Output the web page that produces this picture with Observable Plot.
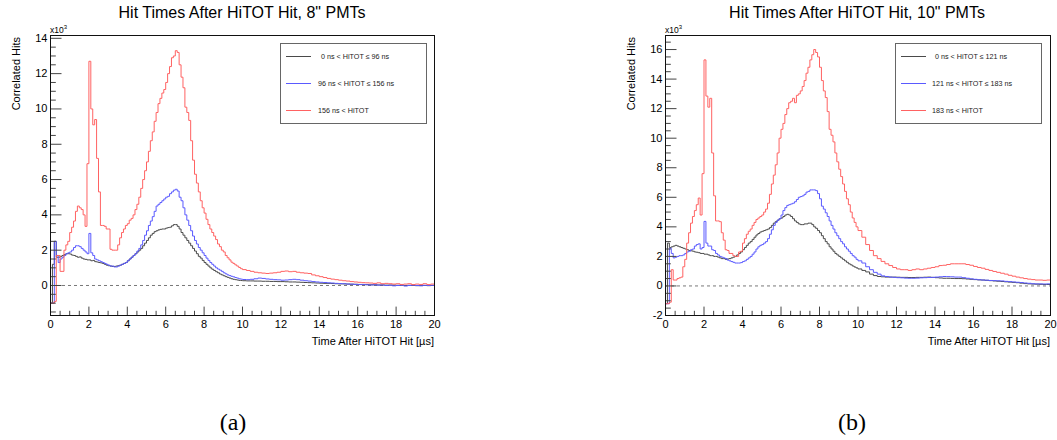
<!DOCTYPE html>
<html>
<head>
<meta charset="utf-8">
<script src="https://cdn.jsdelivr.net/npm/d3@7"></script>
<script src="https://cdn.jsdelivr.net/npm/@observablehq/plot@0.6"></script>
<style>
  html, body { margin: 0; padding: 0; background: #fff; }
  #root { position: relative; width: 1057px; height: 440px; overflow: hidden; background: #fff; }
  #root > svg { position: absolute; top: 0; }
</style>
</head>
<body>
<div id="root"></div>
<script>
// ---------------- text ----------------
const titles = ['Hit Times After HiTOT Hit, 8" PMTs', 'Hit Times After HiTOT Hit, 10" PMTs'];
const yAxisTitle = "Correlated Hits";
const xAxisTitle = "Time After HiTOT Hit [\u00b5s]";
const captions = ["(a)", "(b)"];
const legendA = ["0 ns < HiTOT \u2264 96 ns", "96 ns < HiTOT \u2264 156 ns", "156 ns < HiTOT"];
const legendB = ["0 ns < HiTOT \u2264 121 ns", "121 ns < HiTOT \u2264 183 ns", "183 ns < HiTOT"];

// ---------------- ticks ----------------
const xTicks = [0, 2, 4, 6, 8, 10, 12, 14, 16, 18, 20];
const yTicksA = [0, 2, 4, 6, 8, 10, 12, 14];
const yTicksB = [-2, 0, 2, 4, 6, 8, 10, 12, 14, 16];

// ---------------- binning (µs) ----------------
const binMain = 0.1, tailFrom = 10, binTail = 0.2, xEnd = 20;

// ---------------- values (x10^3 hits) ----------------
// Panel (a), 8" PMTs: bins 0-10 µs (0.1 µs), then 10-20 µs (0.2 µs)
const a8_low_main = [
 -1.0, 1.2, 2.5, 1.6, 1.6, 1.65, 1.7, 1.75, 1.8, 1.8,
 1.78, 1.72, 1.7, 1.65, 1.6, 1.62, 1.55, 1.5, 1.48, 1.45,
 1.45, 1.4, 1.42, 1.35, 1.33, 1.3, 1.28, 1.25, 1.2, 1.15,
 1.12, 1.1, 1.08, 1.08, 1.1, 1.12, 1.15, 1.2, 1.25, 1.3,
 1.4, 1.5, 1.6, 1.7, 1.8, 1.9, 2.0, 2.1, 2.25, 2.4,
 2.55, 2.7, 2.85, 2.95, 3.05, 3.1, 3.15, 3.18, 3.2, 3.2,
 3.25, 3.28, 3.3, 3.38, 3.45, 3.45, 3.35, 3.2, 3.0, 2.85,
 2.7, 2.55, 2.4, 2.25, 2.1, 1.95, 1.8, 1.65, 1.55, 1.42,
 1.3, 1.2, 1.1, 1.0, 0.92, 0.85, 0.78, 0.72, 0.65, 0.6,
 0.55, 0.5, 0.46, 0.42, 0.38, 0.35, 0.33, 0.31, 0.29, 0.28];
const a8_low_tail = [
 0.27, 0.26, 0.26, 0.25, 0.25, 0.24, 0.24, 0.23, 0.23, 0.22,
 0.22, 0.21, 0.2, 0.2, 0.19, 0.18, 0.17, 0.16, 0.15, 0.14,
 0.13, 0.12, 0.12, 0.11, 0.1, 0.09, 0.09, 0.08, 0.07, 0.07,
 0.06, 0.05, 0.05, 0.04, 0.04, 0.03, 0.03, 0.02, 0.02, 0.02,
 0.01, 0.01, 0.0, 0.01, 0.0, -0.01, 0.0, 0.0, -0.01, 0.0];

const a8_mid_main = [
 -1.0, -1.0, 2.5, 1.7, 1.3, 1.5, 1.6, 1.7, 1.8, 1.85,
 1.9, 2.0, 2.15, 2.25, 2.25, 2.2, 2.1, 2.0, 1.9, 1.8,
 2.95, 1.85, 1.7, 1.5, 1.45, 1.4, 1.35, 1.3, 1.25, 1.2,
 1.15, 1.1, 1.1, 1.05, 1.05, 1.1, 1.15, 1.2, 1.25, 1.3,
 1.4, 1.5, 1.6, 1.7, 1.8, 1.95, 2.1, 2.3, 2.55, 2.85,
 3.1, 3.4, 3.65, 3.9, 4.2, 4.5, 4.6, 4.7, 4.8, 4.9,
 5.0, 5.05, 5.2, 5.3, 5.4, 5.45, 5.35, 5.0, 4.8, 4.4,
 4.0, 3.7, 3.4, 3.1, 2.8, 2.55, 2.35, 2.15, 2.0, 1.85,
 1.7, 1.55, 1.42, 1.3, 1.2, 1.1, 1.0, 0.93, 0.87, 0.8,
 0.72, 0.66, 0.6, 0.56, 0.52, 0.49, 0.45, 0.42, 0.38, 0.36];
const a8_mid_tail = [
 0.34, 0.33, 0.35, 0.38, 0.42, 0.4, 0.37, 0.35, 0.33, 0.32,
 0.3, 0.31, 0.33, 0.35, 0.33, 0.3, 0.27, 0.25, 0.22, 0.2,
 0.18, 0.17, 0.15, 0.14, 0.12, 0.11, 0.1, 0.08, 0.08, 0.06,
 0.05, 0.06, 0.04, 0.03, 0.04, 0.02, 0.03, 0.0, 0.02, -0.02,
 0.0, 0.02, -0.03, 0.0, 0.02, 0.0, -0.02, 0.01, 0.0, 0.01];

const a8_high_main = [
 -1.0, -1.0, -0.9, 1.7, 1.7, 0.8, 0.8, 2.0, 2.3, 2.5,
 3.0, 3.3, 3.65, 4.2, 4.5, 4.4, 4.3, 4.0, 3.35, 6.9,
 12.7, 10.0, 9.1, 9.4, 7.2, 5.3, 3.4, 3.4, 3.35, 3.2,
 3.2, 2.05, 2.0, 2.0, 2.0, 2.3, 2.7, 3.0, 3.2, 3.4,
 3.5, 3.7, 3.8, 4.0, 4.3, 4.6, 5.0, 5.5, 6.0, 6.5,
 7.0, 7.6, 8.2, 8.7, 9.3, 9.8, 10.3, 10.6, 10.9, 11.1,
 11.5, 12.0, 12.4, 12.9, 13.0, 13.3, 13.2, 12.5, 11.8, 11.2,
 10.1, 9.8, 9.35, 8.2, 7.1, 6.3, 5.8, 5.3, 4.8, 4.4,
 4.1, 3.75, 3.45, 3.2, 3.0, 2.8, 2.6, 2.35, 2.2, 2.0,
 1.9, 1.7, 1.57, 1.45, 1.32, 1.25, 1.17, 1.1, 1.02, 0.95];
const a8_high_tail = [
 0.9, 0.85, 0.8, 0.75, 0.72, 0.7, 0.68, 0.7, 0.72, 0.75,
 0.8, 0.82, 0.78, 0.8, 0.75, 0.72, 0.7, 0.68, 0.6, 0.55,
 0.5, 0.45, 0.4, 0.36, 0.33, 0.3, 0.27, 0.25, 0.22, 0.2,
 0.18, 0.16, 0.15, 0.14, 0.12, 0.15, 0.1, 0.12, 0.1, 0.08,
 0.1, 0.06, 0.08, 0.1, 0.05, 0.08, 0.06, 0.1, 0.05, 0.08];

// Panel (b), 10" PMTs
const b10_low_main = [
 -1.2, 2.9, 2.6, 2.65, 2.7, 2.75, 2.7, 2.65, 2.6, 2.55,
 2.5, 2.45, 2.4, 2.38, 2.35, 2.3, 2.28, 2.25, 2.2, 2.2,
 2.15, 2.15, 2.1, 2.05, 2.05, 2.0, 2.0, 1.95, 1.9, 1.85,
 1.85, 1.8, 1.82, 1.85, 1.9, 1.95, 2.0, 2.1, 2.2, 2.3,
 2.45, 2.6, 2.75, 2.9, 3.0, 3.15, 3.3, 3.45, 3.55, 3.65,
 3.7, 3.75, 3.8, 3.85, 3.95, 4.1, 4.25, 4.35, 4.45, 4.55,
 4.6, 4.7, 4.8, 4.85, 4.8, 4.7, 4.55, 4.4, 4.3, 4.2,
 4.15, 4.15, 4.2, 4.2, 4.25, 4.25, 4.15, 4.0, 3.9, 3.75,
 3.6, 3.4, 3.2, 3.0, 2.85, 2.65, 2.5, 2.35, 2.2, 2.1,
 2.0, 1.9, 1.8, 1.7, 1.6, 1.5, 1.43, 1.35, 1.28, 1.22];
const b10_low_tail = [
 1.15, 1.05, 0.95, 0.8, 0.7, 0.64, 0.62, 0.6, 0.6, 0.6,
 0.59, 0.58, 0.58, 0.57, 0.57, 0.58, 0.58, 0.59, 0.6, 0.58,
 0.56, 0.54, 0.52, 0.52, 0.51, 0.5, 0.5, 0.49, 0.47, 0.45,
 0.43, 0.41, 0.4, 0.38, 0.36, 0.34, 0.32, 0.3, 0.28, 0.26,
 0.24, 0.22, 0.19, 0.16, 0.14, 0.13, 0.12, 0.11, 0.1, 0.1];

const b10_mid_main = [
 -1.2, -1.2, 2.55, 2.2, 1.9, 1.95, 2.0, 2.05, 2.05, 2.1,
 2.2, 2.3, 2.35, 2.45, 2.5, 2.7, 2.8, 2.85, 2.5, 2.6,
 4.37, 2.9, 2.7, 2.7, 2.45, 2.4, 2.2, 2.1, 2.0, 1.95,
 1.9, 1.85, 1.75, 1.7, 1.65, 1.6, 1.55, 1.55, 1.55, 1.58,
 1.65, 1.7, 1.8, 1.9, 2.0, 2.15, 2.3, 2.5, 2.65, 2.75,
 2.8, 2.9, 3.0, 3.2, 3.5, 3.8, 4.1, 4.3, 4.45, 4.55,
 4.8, 5.1, 5.3, 5.45, 5.5, 5.55, 5.6, 5.7, 5.85, 6.0,
 6.05, 6.1, 6.2, 6.35, 6.4, 6.5, 6.5, 6.5, 6.45, 6.25,
 5.9, 5.4, 5.2, 4.95, 4.7, 4.4, 4.1, 3.85, 3.6, 3.4,
 3.2, 3.0, 2.85, 2.65, 2.5, 2.35, 2.2, 2.05, 1.95, 1.8];
const b10_mid_tail = [
 1.7, 1.55, 1.3, 1.1, 0.92, 0.8, 0.68, 0.64, 0.6, 0.58,
 0.56, 0.55, 0.53, 0.52, 0.52, 0.53, 0.55, 0.56, 0.57, 0.58,
 0.6, 0.62, 0.64, 0.63, 0.62, 0.6, 0.6, 0.56, 0.52, 0.48,
 0.45, 0.42, 0.4, 0.39, 0.37, 0.36, 0.35, 0.34, 0.31, 0.29,
 0.27, 0.25, 0.23, 0.2, 0.18, 0.15, 0.14, 0.14, 0.13, 0.14];

const b10_high_main = [
 -1.2, -1.2, -1.1, 1.1, 0.4, 0.4, 0.5, 0.55, 0.6, 1.3,
 1.8, 2.9, 3.6, 4.25, 4.7, 5.1, 5.5, 5.95, 4.8, 7.6,
 15.3, 12.85, 12.1, 12.7, 9.0, 6.1, 4.4, 4.4, 4.35, 3.6,
 3.1, 2.45, 2.4, 2.2, 2.2, 2.05, 2.0, 2.0, 2.3, 2.35,
 2.9, 3.2, 3.5, 3.7, 3.85, 4.1, 4.3, 4.5, 4.6, 4.7,
 4.8, 5.0, 5.2, 5.6, 6.2, 6.9, 7.5, 8.2, 9.0, 10.0,
 10.6, 11.0, 11.6, 12.0, 12.4, 12.5, 12.7, 12.4, 12.9, 13.0,
 13.2, 13.5, 13.9, 14.4, 14.8, 15.3, 15.65, 16.0, 15.8, 15.5,
 14.8, 13.9, 13.2, 12.75, 11.8, 10.6, 10.2, 9.75, 9.0, 8.4,
 7.9, 7.4, 6.9, 6.4, 5.9, 5.5, 5.0, 4.6, 4.3, 4.0];
const b10_high_tail = [
 3.75, 3.3, 2.8, 2.4, 2.05, 1.85, 1.66, 1.5, 1.38, 1.25,
 1.15, 1.1, 1.1, 1.05, 1.1, 1.15, 1.1, 1.15, 1.2, 1.25,
 1.3, 1.38, 1.4, 1.45, 1.5, 1.5, 1.5, 1.5, 1.45, 1.4,
 1.32, 1.25, 1.2, 1.12, 1.05, 0.98, 0.92, 0.86, 0.8, 0.72,
 0.66, 0.6, 0.55, 0.5, 0.46, 0.43, 0.4, 0.4, 0.38, 0.4];

// ---------------- styles ----------------
const seriesColors = ["#4a4a4a", "#5a5aff", "#ff6262"];
const font = "'Liberation Sans', Arial, Helvetica, sans-serif";

function hist(main, tail) {
  const pts = main.map((v, i) => ({t: +(i * binMain).toFixed(2), v}));
  tail.forEach((v, k) => pts.push({t: +(tailFrom + k * binTail).toFixed(2), v}));
  pts.push({t: xEnd, v: tail[tail.length - 1]});
  return pts;
}

const panels = [
  {left: 0, width: 450, mL: 50, mR: 16, yDomain: [-1.7, 14.16], yTicks: yTicksA,
   series: [hist(a8_low_main, a8_low_tail), hist(a8_mid_main, a8_mid_tail), hist(a8_high_main, a8_high_tail)],
   title: titles[0], legend: legendA, titleX: 242, yTitleX: 19.5,
   legBox: [280, 43], legText: [321, 318, 318], caption: captions[0], capX: 233},
  {left: 610, width: 447, mL: 55, mR: 7, yDomain: [-2, 16.95], yTicks: yTicksB,
   series: [hist(b10_low_main, b10_low_tail), hist(b10_mid_main, b10_mid_tail), hist(b10_high_main, b10_high_tail)],
   title: titles[1], legend: legendB, titleX: 857, yTitleX: 635,
   legBox: [895, 43], legText: [935, 932, 932], caption: captions[1], capX: 852}
];

const H = 350, mT = 35, mB = 35;
const root = document.getElementById("root");

for (const p of panels) {
  const frameW = p.width - p.mL - p.mR, frameH = H - mT - mB;
  const xMinor = d3.range(0, 20.001, 0.5).filter(v => v % 2 !== 0);
  const yMinor = d3.range(Math.ceil(p.yDomain[0] * 2) / 2, p.yDomain[1], 0.5).filter(v => Math.abs(v % 2) > 1e-9);
  const chart = Plot.plot({
    width: p.width, height: H,
    marginTop: mT, marginBottom: mB, marginLeft: p.mL, marginRight: p.mR,
    x: {domain: [0, 20], axis: null},
    y: {domain: p.yDomain, axis: null},
    style: {background: "transparent", fontFamily: font, fontSize: "11px", color: "#000"},
    marks: [
      Plot.ruleY([0], {stroke: "#555", strokeWidth: 0.8, strokeDasharray: "3,3"}),
      ...p.series.map((s, i) => Plot.line(s, {x: "t", y: "v", curve: "step-after", stroke: seriesColors[i], strokeWidth: 1, clip: true})),
      Plot.tickX(xMinor, {x: d => d, insetTop: frameH - 4.2, stroke: "#444"}),
      Plot.tickX(xTicks, {x: d => d, insetTop: frameH - 8.4, stroke: "#444"}),
      Plot.tickY(yMinor, {y: d => d, insetRight: frameW - 5.8, stroke: "#444"}),
      Plot.tickY(p.yTicks, {y: d => d, insetRight: frameW - 11.5, stroke: "#444"}),
      Plot.axisX(xTicks, {tickSize: 0, tickPadding: 4.5, tickFormat: d => String(d), label: null, fontSize: 11}),
      Plot.axisY(p.yTicks, {tickSize: 0, tickPadding: 3, tickFormat: d => String(d), label: null, fontSize: 11}),
      Plot.frame({stroke: "#111", strokeWidth: 1})
    ]
  });
  chart.style.left = p.left + "px";
  root.appendChild(chart);
}

// ---------------- overlay: titles, axis titles, legend, captions ----------------
const ov = d3.select(root).append("svg")
  .attr("width", 1057).attr("height", 440)
  .style("left", "0px").style("pointer-events", "none")
  .attr("font-family", font);

for (const p of panels) {
  const fx0 = p.left + p.mL, fx1 = p.left + p.width - p.mR;
  ov.append("text").attr("x", p.titleX).attr("y", 18).attr("text-anchor", "middle")
    .attr("font-size", 16).attr("fill", "#000").text(p.title);
  ov.append("text").attr("transform", `translate(${p.yTitleX},37) rotate(-90)`).attr("text-anchor", "end")
    .attr("font-size", 11).attr("fill", "#000").text(yAxisTitle);
  ov.append("text").attr("x", fx1).attr("y", 345).attr("text-anchor", "end")
    .attr("font-size", 11).attr("fill", "#000").text(xAxisTitle);
  const m = ov.append("text").attr("x", fx0).attr("y", 33).attr("font-size", 8.5).attr("fill", "#000");
  m.append("tspan").text("x10");
  m.append("tspan").attr("dy", -4).attr("font-size", 6).text("3");
  // legend
  const [lx, ly] = p.legBox;
  ov.append("rect").attr("x", lx + 0.5).attr("y", ly + 0.5).attr("width", 146).attr("height", 80)
    .attr("fill", "#fff").attr("stroke", "#666").attr("stroke-width", 1);
  const rows = [56, 83, 110];
  p.legend.forEach((name, i) => {
    ov.append("line").attr("x1", lx + 6).attr("x2", lx + 31).attr("y1", rows[i] + 0.5).attr("y2", rows[i] + 0.5)
      .attr("stroke", seriesColors[i]).attr("stroke-width", 1);
    ov.append("text").attr("x", p.legText[i]).attr("y", rows[i] + 2.5).attr("font-size", 7.2)
      .attr("fill", "#222").text(name);
  });
  ov.append("text").attr("x", p.capX).attr("y", 430).attr("text-anchor", "middle")
    .attr("font-family", "'Liberation Serif', 'DejaVu Serif', serif").attr("font-size", 24)
    .attr("fill", "#000").text(p.caption);
}
</script>
</body>
</html>
